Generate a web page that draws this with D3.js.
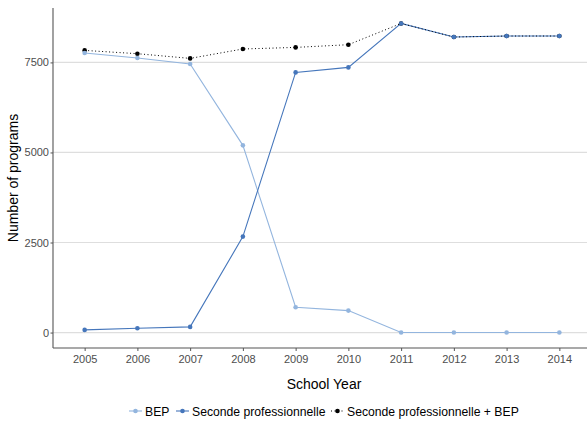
<!DOCTYPE html>
<html><head><meta charset="utf-8">
<script src="https://cdn.jsdelivr.net/npm/d3@7"></script>
<style>body{margin:0;background:#fff}svg{display:block;font-family:"Liberation Sans",Arial,sans-serif}</style>
</head><body><svg id="c" width="587" height="421"></svg>
<script>
const years = [2005,2006,2007,2008,2009,2010,2011,2012,2013,2014];
const bep = [7761,7622,7456,5198,703,610,0,0,0,0];
const seconde = [74,120,157,2664,7223,7362,8582,8205,8233,8233];
const total = [7834,7742,7612,7873,7917,7992,8582,8205,8233,8233];
const yTicks = [0,2500,5000,7500];
const seriesNames = ["BEP","Seconde professionnelle","Seconde professionnelle + BEP"];

const svg = d3.select("#c");
const L = 53, R = 591, T = 8, B = 348;
const x = d3.scalePoint().domain(years).range([L, R]).padding(0.6);
const y = d3.scaleLinear().domain([-429, 9011]).range([B, T]);

// grid
svg.append("g").selectAll("line").data(yTicks).join("line")
  .attr("x1", L).attr("x2", R).attr("y1", d=>y(d)).attr("y2", d=>y(d))
  .attr("stroke", "#dedede").attr("stroke-width", 1.2);

// axes
const gy = svg.append("g").attr("transform", `translate(${L},0)`)
  .call(d3.axisLeft(y).tickValues(yTicks).tickSize(2.5).tickPadding(1.5).tickFormat(d3.format("d")));
const gx = svg.append("g").attr("transform", `translate(0,${B})`)
  .call(d3.axisBottom(x).tickSize(3).tickPadding(4).tickFormat(d3.format("d")));
[gx, gy].forEach(g => {
  g.select(".domain").attr("stroke", "#555").attr("stroke-width", 1.1);
  g.selectAll(".tick line").attr("stroke", "#555");
  g.selectAll(".tick text").attr("fill", "#4d4d4d").style("font-size", "11px").style("font-family", '"Liberation Sans",Arial,sans-serif');
});
gy.select(".domain").attr("d", `M0,${B}V${T}`);
gx.select(".domain").attr("d", `M${L},0H${R}`);

const cBEP = "#93b5de", cSP = "#4576bb", cT = "#000";
const line = d3.line().x((d,i)=>x(years[i])).y(d=>y(d));

svg.append("path").datum(bep).attr("d", line).attr("fill","none").attr("stroke", cBEP).attr("stroke-width", 1.1);
svg.append("path").datum(seconde).attr("d", line).attr("fill","none").attr("stroke", cSP).attr("stroke-width", 1.1);
svg.append("path").datum(total).attr("d", line).attr("fill","none").attr("stroke", cT).attr("stroke-width", 1).attr("stroke-dasharray", "1,2.5");

function pts(data, col) {
  svg.append("g").selectAll("circle").data(data).join("circle")
    .attr("cx", (d,i)=>x(years[i])).attr("cy", d=>y(d)).attr("r", 2.3).attr("fill", col);
}
pts(total, cT); pts(bep, cBEP); pts(seconde, cSP);

// axis titles
svg.append("text").attr("x", 324).attr("y", 389).attr("text-anchor","middle")
  .style("font-size","14px").attr("fill","#000").text("School Year");
svg.append("text").attr("transform","translate(18,178) rotate(-90)").attr("text-anchor","middle")
  .style("font-size","14px").attr("fill","#000").text("Number of programs");

// legend
const legendItems = [
  {name: seriesNames[0], col: cBEP, dash: null, kx: 129, tx: 145},
  {name: seriesNames[1], col: cSP, dash: null, kx: 176, tx: 192},
  {name: seriesNames[2], col: cT, dash: "1,2.5", kx: 331, tx: 347}
];
const ly = 411;
const lg = svg.append("g");
legendItems.forEach(it => {
  lg.append("line").attr("x1", it.kx).attr("x2", it.kx+13).attr("y1", ly).attr("y2", ly)
    .attr("stroke", it.col).attr("stroke-width", 1.1).attr("stroke-dasharray", it.dash);
  lg.append("circle").attr("cx", it.kx+6.5).attr("cy", ly).attr("r", 2.3).attr("fill", it.col);
  lg.append("text").attr("x", it.tx).attr("y", ly+4.5).style("font-size","12.2px").attr("fill","#000").text(it.name);
});
</script></body></html>
